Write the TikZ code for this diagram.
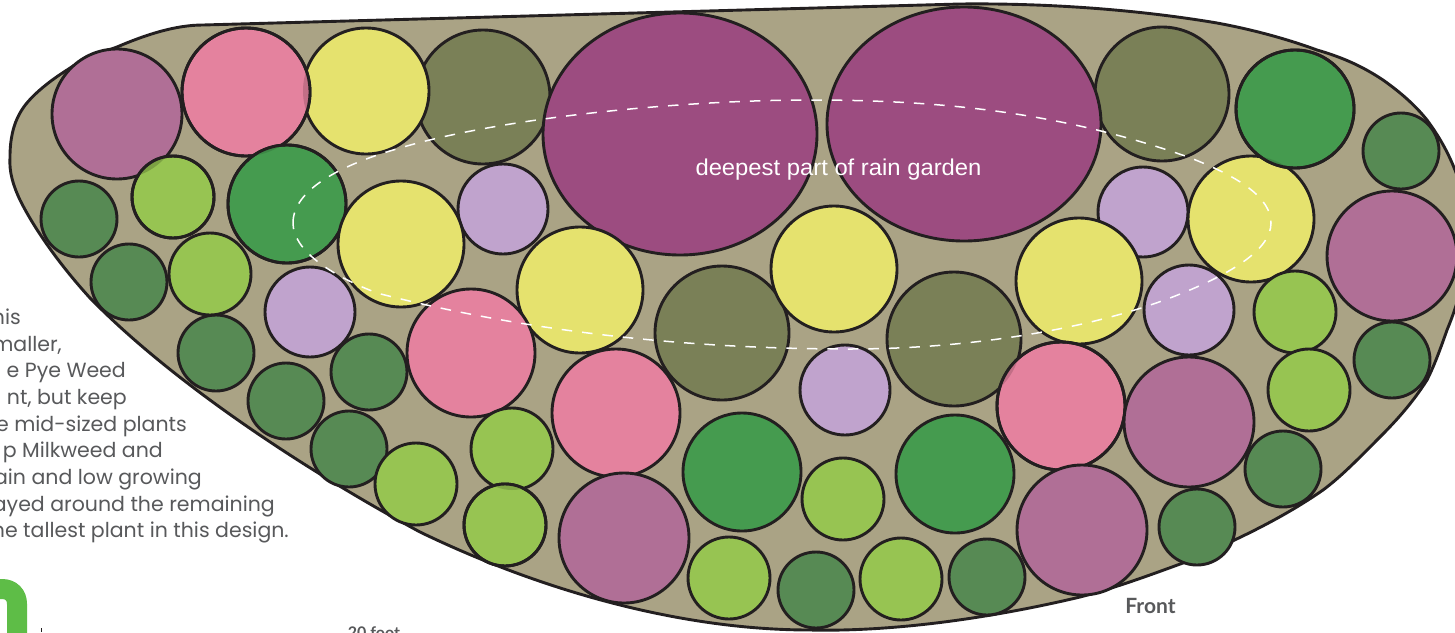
\documentclass[tikz,border=0pt]{standalone}
\usepackage{fontspec}
\setmainfont{Poppins}
\newfontfamily\labelfont{Lato}
\newfontfamily\deepfont[FakeStretch=1.04]{Liberation Sans}
\definecolor{tan}{HTML}{AAA385}
\definecolor{ink}{HTML}{231F20}
\definecolor{plum}{HTML}{B06F96}
\definecolor{pinkf}{HTML}{E4829E}
\definecolor{yel}{HTML}{E5E26E}
\definecolor{olive2}{HTML}{7A8057}
\definecolor{deep}{HTML}{9C4C80}
\definecolor{gr}{HTML}{459B4F}
\definecolor{dgr}{HTML}{578A54}
\definecolor{lgr}{HTML}{97C452}
\definecolor{lil}{HTML}{C0A3CD}
\definecolor{txt}{HTML}{58595B}
\definecolor{barg}{HTML}{5EBD47}
\newcommand{\plants}[2]{\foreach \x/\y/\r in {#2}{\draw[plant,fill=#1] (\x,\y) circle[radius=\r];}}
% sliver: top circle, lower circle, colour of their overlap
\newcommand{\sliver}[7]{\begin{scope}\clip (#1,#2) circle[radius=#3];\fill[#7] (#4,#5) circle[radius=#6];\end{scope}\draw[plant] (#1,#2) circle[radius=#3];}
\tikzset{plant/.style={draw=ink,line width=2.9pt},
 bodytext/.style={anchor=base east,text=txt,font=\fontsize{20.5}{24}\selectfont,inner sep=0pt}}
\begin{document}
\begin{tikzpicture}[x=1pt,y=-1pt]
\useasboundingbox (0,0) rectangle (1455,632);
\clip (0,0) rectangle (1455,632);
\fill[white] (0,0) rectangle (1455,632);
\draw[draw=ink,fill=tan,line width=2.9pt]
 (203,25) -- (960,4)
 .. controls (1050,3) and (1140,10) .. (1217,23)
 .. controls (1255,30) and (1290,40) .. (1317,50)
 .. controls (1345,58) and (1365,68) .. (1383,80)
 .. controls (1400,92) and (1415,105) .. (1427,120)
 .. controls (1438,135) and (1447,150) .. (1455,170)
 .. controls (1475,220) and (1470,275) .. (1447,330)
 .. controls (1441,347) and (1435,364) .. (1427,380)
 .. controls (1413,402) and (1397,420) .. (1380,437)
 .. controls (1362,455) and (1342,476) .. (1323,490)
 .. controls (1280,520) and (1230,543) .. (1183,563)
 .. controls (1150,575) and (1115,588) .. (1080,597)
 .. controls (1000,616) and (900,632) .. (810,630)
 .. controls (680,630) and (540,590) .. (420,532)
 .. controls (320,478) and (180,390) .. (90,298)
 .. controls (60,265) and (35,230) .. (20,200)
 .. controls (13,185) and (9,172) .. (10,157)
 .. controls (10,140) and (13,125) .. (20,113)
 .. controls (28,98) and (48,82) .. (67,70)
 .. controls (83,59) and (100,53) .. (117,47)
 .. controls (145,35) and (175,25) .. (203,25) -- cycle;
\plants{olive2}{483/97/67,1162/94/67,722/333/67,954/339/67}
\draw[plant,fill=deep] (680,134) ellipse[x radius=137,y radius=121];
\draw[plant,fill=deep] (964,124) ellipse[x radius=137,y radius=117];
\plants{lil}{503/209/45,310/312/45,1143/212/45,1189/310/45,845/390/45}
\plants{yel}{366/91/63,580/290/63,834/269/63,1079/281/63,1251/219/63}
\plants{pinkf}{246/92/64,471/353/64,616/413/64,1061/406/64}
\sliver{246}{92}{64}{366}{91}{63}{pinkf!85!black}
\sliver{1061}{406}{64}{954}{339}{67}{pinkf!85!black}
\plants{plum}{117/114/65,1392/256/65,1189/422/65,624/538/65,1082/530/65}
\plants{gr}{287/204/59,1295/109/59,742/472/59,955/474/59}
\sliver{287}{204}{59}{246}{92}{64}{gr!88!black}
\sliver{1295}{109}{59}{1251}{219}{63}{gr!88!black}
\plants{yel}{401/244/63}
\plants{dgr}{79/219/38,129/282/38,216/353/38,286/401/38,369/372/38,349/449/38,1401/151/38,1392/360/38,1283/469/38,1197/527/38,816/590/38,987/577/38}
\plants{lgr}{173/197/41,210/274/41,1295/312/41,1309/390/41,416/484/41,512/449/41,505/525/41,843/499/41,729/578/41,901/579/41}
\sliver{173}{197}{41}{117}{114}{65}{lgr!82!black}
\sliver{505}{525}{41}{512}{449}{41}{lgr!85!black}
\draw[white,line width=1.5pt,dash pattern=on 10.5pt off 10pt]
 (293,223) .. controls (293,190) and (340,165) .. (400,148)
 .. controls (500,118) and (680,100) .. (810,100)
 .. controls (940,100) and (1060,112) .. (1188,157)
 .. controls (1240,177) and (1271,198) .. (1271,223)
 .. controls (1271,250) and (1230,275) .. (1170,298)
 .. controls (1080,332) and (960,349) .. (850,349)
 .. controls (680,349) and (520,330) .. (377,293)
 .. controls (330,275) and (293,250) .. (293,223) -- cycle;
\node[text=white,font=\deepfont\fontsize{22.9}{26}\selectfont,anchor=base,inner sep=0pt] (deepest) at (838.5,175) {deepest part of rain garden};
\node[bodytext] (l1) at (21,324) {his};
\node[bodytext] (l2) at (62,351) {maller,};
\node[bodytext] (l3) at (126,377) {e Pye Weed};
\node[bodytext] (l4) at (127,404) {nt, but keep};
\node[bodytext] (l5) at (187,431) {he mid-sized plants};
\node[bodytext] (l6) at (163,457) {p Milkweed and};
\node[bodytext] (l7) at (202,484) {ain and low growing};
\node[bodytext] (l8) at (275,511) {ayed around the remaining};
\node[bodytext] (l9) at (289,537) {he tallest plant in this design.};
\node[text=txt,font=\labelfont\bfseries\fontsize{21}{24}\selectfont,inner sep=0pt] (front) at (1150.5,606) {Front};
\node[text=txt,font=\labelfont\bfseries\fontsize{16}{18}\selectfont,anchor=base,inner sep=0pt] (foot) at (374,638) {20 foot};
\draw[barg,line width=20pt] (-10,589) -- (2,589) .. controls (11,589) and (17,595) .. (17,604) -- (17,640);
\draw[ink,line width=1pt] (41,628) -- (41,632);
\end{tikzpicture}
\end{document}
